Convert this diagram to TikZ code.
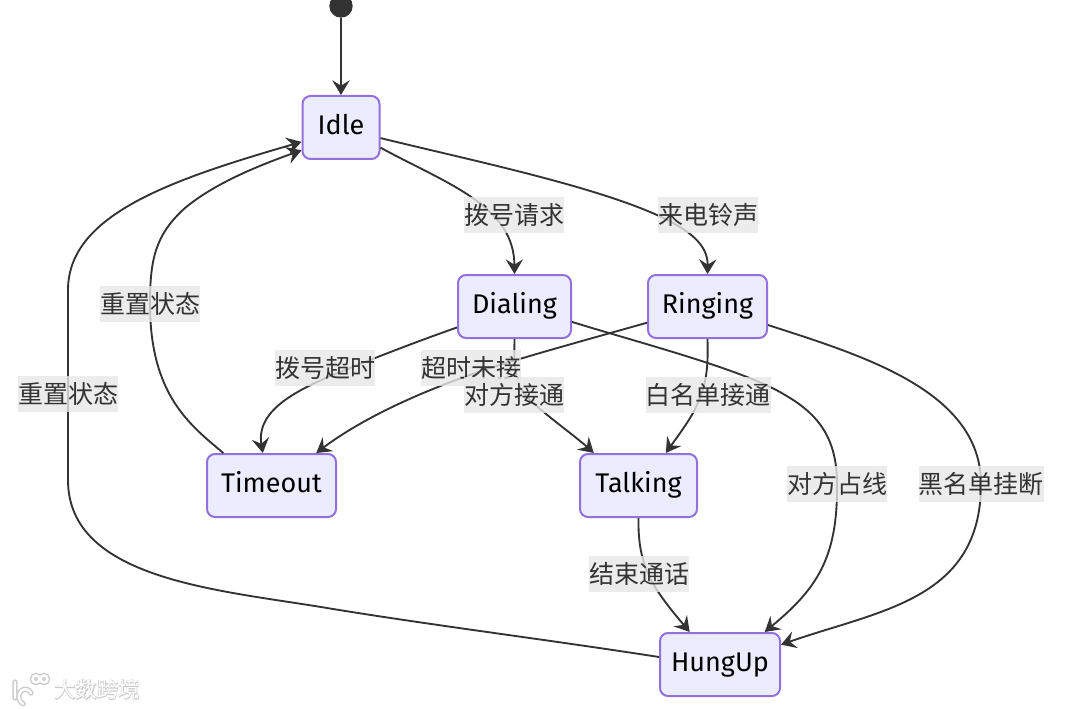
\documentclass[tikz,border=0pt]{standalone}
\usepackage{fontspec}
\setmainfont{Noto Sans CJK SC}
\newfontfamily\statefont{Fira Sans}
\newfontfamily\markfont{Noto Sans CJK SC}
\newfontfamily\markshadowfont[FakeBold=5]{Noto Sans CJK SC}
\usetikzlibrary{arrows.meta}
\definecolor{stateborder}{HTML}{9370DB}
\definecolor{statefill}{HTML}{ECECFF}
\definecolor{edgecol}{HTML}{333333}
\definecolor{labelfill}{HTML}{E8E8E8}
\tikzset{
  state/.style={draw=stateborder,fill=statefill,line width=1.5pt,rounded corners=6pt,minimum height=47.25pt,inner sep=0pt,text height=14pt,text depth=3.6pt,text=black,font=\statefont\fontsize{20.25pt}{24pt}\selectfont},
  edge/.style={draw=edgecol,line width=1.4pt,-{Stealth[length=11pt,width=13pt,inset=4pt]}},
  edgelabel/.style={fill=labelfill,fill opacity=0.8,text opacity=1,text=edgecol,inner sep=0pt,minimum height=27pt,font=\fontsize{18.75pt}{22pt}\selectfont},
}
\begin{document}
\begin{tikzpicture}[x=0.75pt,y=-0.75pt]
\useasboundingbox (0,0) rectangle (1080,709);
\fill[white] (0,0) rectangle (1080,709);
\node[circle,fill=edgecol,minimum size=17.5pt,inner sep=0pt] (start) at (341,6) {};
\node[state,minimum width=57.75pt] (idle) at (341,127.5) {Idle};
\node[state,minimum width=84.75pt] (dialing) at (514.5,306.5) {Dialing};
\node[state,minimum width=89.25pt] (ringing) at (707.5,306.5) {Ringing};
\node[state,minimum width=96.75pt] (timeout) at (271.5,485.5) {Timeout};
\node[state,minimum width=87.75pt] (talking) at (638.5,485.5) {Talking};
\node[state,minimum width=90pt] (hungup) at (720,664.5) {HungUp};
\coordinate (lDial) at (514,215);
\coordinate (lRing) at (708,215);
\coordinate (lResetA) at (150,304);
\coordinate (lResetB) at (68,394);
\coordinate (lDialOut) at (325,368);
\coordinate (lRingOut) at (471,368);
\coordinate (lAnswer) at (514,395);
\coordinate (lWhite) at (708,395);
\coordinate (lBusy) at (837,484);
\coordinate (lBlack) at (981,484);
\coordinate (lEnd) at (639,574);
\draw[edge] (start) -- (idle);
\draw[edge] (idle.-27) .. controls (445,183) and (514,205) .. (dialing.north);
\draw[edge] (idle.-15.3) .. controls (470,160) and (590,185) .. (657,215) .. controls (690,230) and (708,245) .. (ringing.north);
\draw[edge] (dialing.200) .. controls (430,337) and (400,348) .. (360,364) .. controls (310,384) and (255,405) .. (timeout.105);
\draw[edge] (ringing.195.5) .. controls (600,336) and (560,347) .. (523,358) .. controls (470,373) and (380,405) .. (timeout.36);
\draw[edge] (dialing.south) .. controls (514,370) and (514,385) .. (530,400) .. controls (548,417) and (575,436) .. (talking.144);
\draw[edge] (dialing.-15.3) .. controls (640,343) and (745,370) .. (785,395) .. controls (820,415) and (837,440) .. (lBusy) .. controls (838,560) and (815,590) .. (hungup.36.2);
\draw[edge] (ringing.south) .. controls (708,365) and (708,385) .. (693,413) .. controls (685,427) and (675,440) .. (talking.50);
\draw[edge] (ringing.-17.3) .. controls (860,355) and (981,390) .. (lBlack) .. controls (981,600) and (880,610) .. (hungup.18);
\draw[edge] (talking.south) .. controls (638,545) and (642,565) .. (655,587) .. controls (665,603) and (678,618) .. (hungup.133.6);
\draw[edge] (timeout.146) .. controls (190,425) and (150,395) .. (lResetA) .. controls (150,260) and (155,235) .. (185,208) .. controls (215,183) and (260,165) .. (idle.210);
\draw[edge] (hungup.173) .. controls (550,640) and (430,625) .. (327,608) .. controls (220,590) and (68,580) .. (68,480) -- (lResetB) -- (68,290) .. controls (68,215) and (170,180) .. (idle.200.6);
\node[edgelabel,minimum width=75pt] (labDial) at (lDial) {拨号请求};
\node[edgelabel,minimum width=75pt] (labRing) at (lRing) {来电铃声};
\node[edgelabel,minimum width=75pt] (labResetA) at (lResetA) {重置状态};
\node[edgelabel,minimum width=75pt] (labResetB) at (lResetB) {重置状态};
\node[edgelabel,minimum width=75pt] (labDialOut) at (lDialOut) {拨号超时};
\node[edgelabel,minimum width=75pt] (labRingOut) at (lRingOut) {超时未接};
\node[edgelabel,minimum width=75pt] (labAnswer) at (lAnswer) {对方接通};
\node[edgelabel,minimum width=93.75pt] (labWhite) at (lWhite) {白名单接通};
\node[edgelabel,minimum width=75pt] (labBusy) at (lBusy) {对方占线};
\node[edgelabel,minimum width=93.75pt] (labBlack) at (lBlack) {黑名单挂断};
\node[edgelabel,minimum width=75pt] (labEnd) at (lEnd) {结束通话};
\node[text=black!20,font=\markshadowfont\fontsize{16pt}{18pt}\selectfont,inner sep=0pt] (markshadow) at (97,689.5) {大数跨境};
\node[text=white,font=\markfont\fontsize{16pt}{18pt}\selectfont,inner sep=0pt] (mark) at (97,689) {大数跨境};
\draw[black!20,line width=4pt,line cap=round] (15,682) -- (15,698) (31,693) arc (-30:-250:6.5 and 7.5) (36,679) circle (3.5) (44,679) circle (3.5);
\draw[white,line width=1.8pt,line cap=round] (15,682) -- (15,698) (31,693) arc (-30:-250:6.5 and 7.5) (36,679) circle (3.5) (44,679) circle (3.5);
\end{tikzpicture}
\end{document}
